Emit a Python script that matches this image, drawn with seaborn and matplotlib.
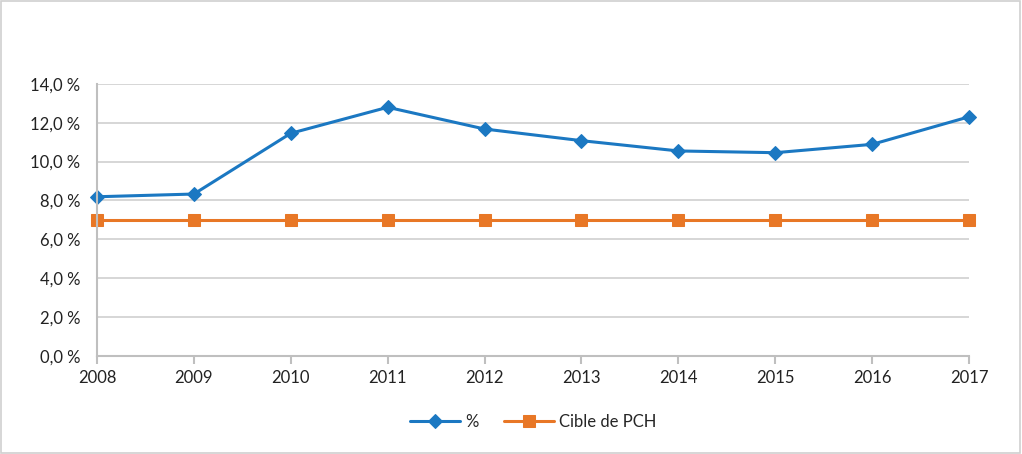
import matplotlib
matplotlib.use("Agg")
import matplotlib.pyplot as plt
import seaborn as sns
import pandas as pd
from matplotlib.ticker import FuncFormatter

# Données
annees = [2008, 2009, 2010, 2011, 2012, 2013, 2014, 2015, 2016, 2017]
pourcentage = [8.19, 8.33, 11.46, 12.80, 11.68, 11.08, 10.55, 10.46, 10.89, 12.31]
cible_pch = [7.0, 7.0, 7.0, 7.0, 7.0, 7.0, 7.0, 7.0, 7.0, 7.0]

bleu = "#1B78C2"
orange = "#E87726"

sns.set_theme(style="white")
plt.rcParams["font.family"] = ["Lato", "DejaVu Sans"]

df = pd.DataFrame({"annee": annees, "pct": pourcentage, "cible": cible_pch})

fig = plt.figure(figsize=(10.22, 4.54), dpi=100)
ax = fig.add_axes([0.0949, 0.2165, 0.8533, 0.5985])

sns.lineplot(data=df, x="annee", y="pct", ax=ax, color=bleu, linewidth=2.2,
             marker="D", markersize=7, markeredgecolor=bleu, label="%", clip_on=False)
sns.lineplot(data=df, x="annee", y="cible", ax=ax, color=orange, linewidth=2.2,
             marker="s", markersize=8, markeredgecolor=orange, label="Cible de PCH", clip_on=False)

ax.set_xlim(annees[0], annees[-1])
ax.set_ylim(0, 14)
ax.set_yticks([0, 2, 4, 6, 8, 10, 12, 14])
ax.yaxis.set_major_formatter(FuncFormatter(lambda v, p: f"{v:.1f}".replace(".", ",") + "\u202f%"))
ax.set_xticks(annees)
ax.set_xlabel("")
ax.set_ylabel("")

ax.grid(axis="y", color="#D0D0D0", linewidth=1.2)
ax.set_axisbelow(True)
for s in ["top", "right"]:
    ax.spines[s].set_visible(False)
for s in ["left", "bottom"]:
    ax.spines[s].set_color("#BFBFBF")
    ax.spines[s].set_linewidth(1.5)
ax.tick_params(axis="x", bottom=True, length=6, color="#BFBFBF", width=1.5,
               labelsize=12, labelcolor="#222222", pad=4)
ax.tick_params(axis="y", left=False, labelsize=12, labelcolor="#222222", pad=6)

leg = ax.legend(loc="upper center", bbox_to_anchor=(0.5, -0.16), ncol=2, frameon=False,
                fontsize=12, handlelength=3.0, columnspacing=1.5, handletextpad=0.3)

# cadre extérieur
fig.patches.append(plt.Rectangle((0.001, 0.002), 0.997, 0.996, transform=fig.transFigure,
                                 fill=False, edgecolor="#D0D0D0", linewidth=1.2))

fig.savefig("out.png", dpi=100)
